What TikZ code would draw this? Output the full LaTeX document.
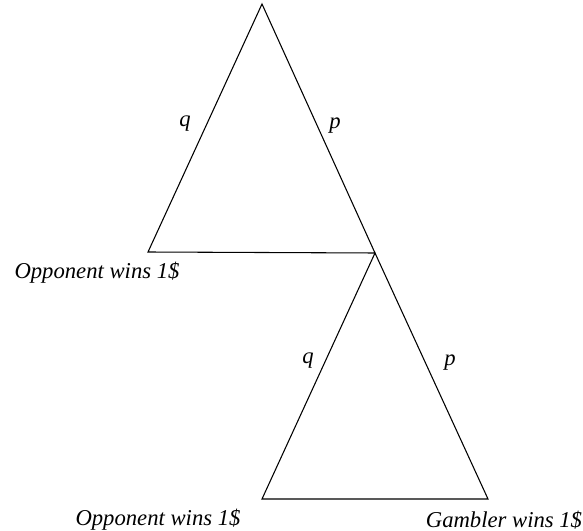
\documentclass[tikz,border=0pt]{standalone}
\usepackage{fontspec}
\setmainfont{Liberation Serif}
\begin{document}
\begin{tikzpicture}[x=0.75pt,y=-0.75pt]
\tikzstyle{vertex} = [shape = coordinate]
\tikzstyle{prob} = [font=\fontsize{17}{19}\selectfont\itshape, inner sep=0pt]
\tikzstyle{outcome} = [font=\fontsize{17}{19}\selectfont\itshape, inner sep=0pt]

\useasboundingbox (0,0) rectangle (583,531);

\node[vertex] (top) at (262,4) {};
\node[vertex] (l1) at (148,252) {};
\node[vertex] (mid) at (375,253) {};
\node[vertex] (l2) at (262,499) {};
\node[vertex] (r2) at (488,499) {};

\draw[thick] (l1) -- (top) -- (mid) -- cycle;
\draw[thick] (l2) -- (mid) -- (r2) -- cycle;

\node[prob] (q1) at (185,124) {q};
\node[prob] (p1) at (335,126) {p};
\node[prob] (q2) at (308,361) {q};
\node[prob] (p2) at (450,363) {p};

\node[outcome] (o1) at (97,273) {Opponent wins 1\$};
\node[outcome] (o2) at (158,520) {Opponent wins 1\$};
\node[outcome] (g2) at (504,520) {Gambler wins 1\$};

\end{tikzpicture}
\end{document}
